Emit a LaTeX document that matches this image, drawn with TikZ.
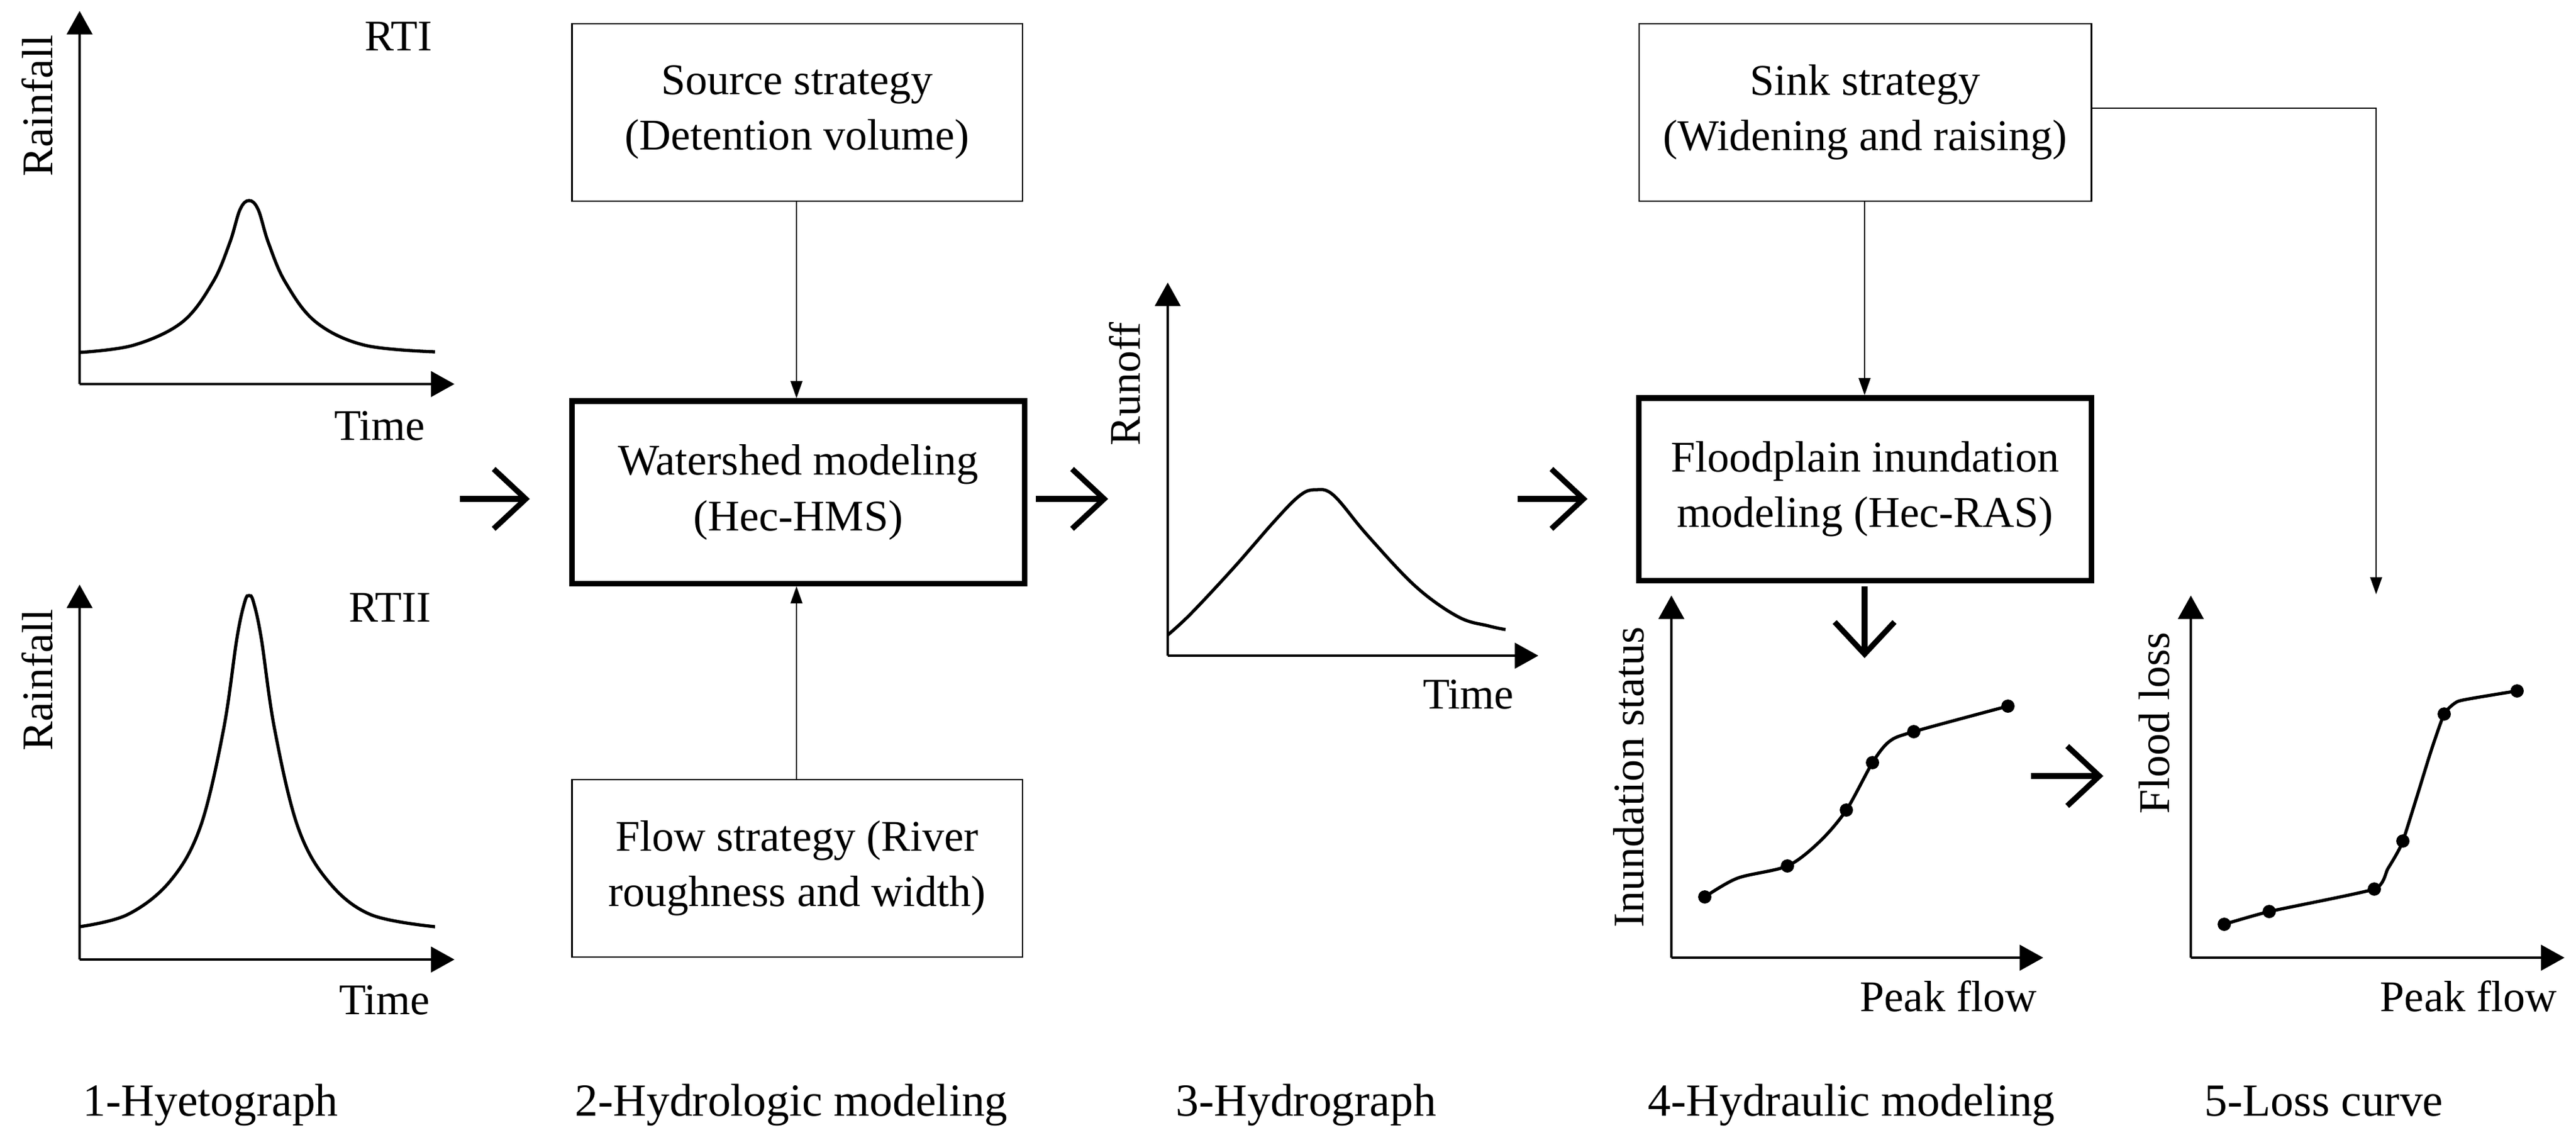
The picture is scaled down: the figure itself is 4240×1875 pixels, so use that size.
\documentclass[tikz,border=0pt]{standalone}
\usepackage{fontspec}
\setmainfont{Liberation Serif}
\usetikzlibrary{arrows.meta}
\begin{document}
\begin{tikzpicture}[x=0.01cm,y=-0.01cm,
  every node/.style={font=\fontsize{20.5}{26}\selectfont},
  box/.style={draw,line width=0.7pt,align=center,inner sep=0pt,minimum width=7.41cm,minimum height=2.92cm},
  tbox/.style={box,line width=2.6pt,minimum width=7.44cm,minimum height=3.0cm},
  axis/.style={line width=0.9pt,-{Triangle[length=11pt,width=12pt]}},
  conn/.style={line width=0.6pt,-{Triangle[length=8pt,width=5.5pt]}},
  big/.style={line width=2.6pt,-{Straight Barb[length=15pt,width=28pt,line width=2.6pt]}},
  crv/.style={line width=1.5pt},
  dot/.style={circle,fill,inner sep=2.2pt},
  captxt/.style={anchor=base west,inner sep=0pt,font=\fontsize{21.5}{26}\selectfont}]
\useasboundingbox (0,0) rectangle (4240,1875);
% plot 1
\coordinate (o1) at (131,632);
\draw[axis] (o1) -- (131,18);
\draw[axis] (o1) -- (748,632);
\node[rotate=90] (r1) at (61,174) {Rainfall};
\node (rti) at (656,60) {RTI};
\node (t1) at (625,701) {Time};
\draw[crv] plot[smooth,tension=0.6] coordinates {(131,580) (220,568) (300,530) (350,465) (378,400) (395,345) (410,330) (425,345) (442,400) (470,465) (520,530) (600,568) (716,579)};
% plot 2
\coordinate (o2) at (131,1579);
\draw[axis] (o2) -- (131,962);
\draw[axis] (o2) -- (748,1579);
\node[rotate=90] (r2) at (61,1119) {Rainfall};
\node (rtii) at (642,1000) {RTII};
\node (t2) at (633,1646) {Time};
\draw[crv] plot[smooth,tension=0.6] coordinates {(131,1525) (210,1505) (280,1450) (330,1360) (368,1200) (390,1050) (403,990) (410,980) (417,990) (430,1050) (452,1200) (490,1360) (540,1450) (610,1505) (716,1525)};
% big arrows
\draw[big] (757,821) -- (872,821);
\draw[big] (1705,821) -- (1824,821);
\draw[big] (2498,821) -- (2613,821);
\draw[big] (3069,965) -- (3069,1083);
\draw[big] (3343,1277) -- (3462,1277);
% boxes
\node[box] (src) at (1312,185) {Source strategy\\(Detention volume)};
\node[tbox] (ws) at (1314,810) {Watershed modeling\\(Hec-HMS)};
\node[box] (fl) at (1312,1429) {Flow strategy (River\\roughness and width)};
\node[box,minimum width=7.44cm] (sk) at (3070,185) {Sink strategy\\(Widening and raising)};
\node[tbox] (fp) at (3070,805) {Floodplain inundation\\modeling (Hec-RAS)};
\draw[conn] (src.south -| 1311,0) -- (ws.north -| 1311,0);
\draw[conn] (fl.north -| 1311,0) -- (ws.south -| 1311,0);
\draw[conn] (sk.south -| 3069,0) -- (fp.north -| 3069,0);
\coordinate (lc) at (3911,978);
\draw[conn] (sk.east |- 0,178) -- (3911,178) -- (lc);
% plot 3
\coordinate (o3) at (1922,1079);
\draw[axis] (o3) -- (1922,465);
\draw[axis] (o3) -- (2532,1079);
\node[rotate=90] (r3) at (1851,632) {Runoff};
\node (t3) at (2417,1143) {Time};
\draw[crv] plot[smooth,tension=0.6] coordinates {(1922,1045) (1960,1010) (2030,935) (2100,855) (2140,815) (2165,806) (2195,815) (2250,880) (2330,965) (2400,1015) (2450,1030) (2478,1036)};
% plot 4
\coordinate (o4) at (2751,1576);
\draw[axis] (o4) -- (2751,980);
\draw[axis] (o4) -- (3363,1576);
\node[rotate=90] (r4) at (2681,1279) {Inundation status};
\node (p4) at (3207,1639) {Peak flow};
\draw[crv] plot[smooth,tension=0.5] coordinates {(2806,1476) (2860,1445) (2942,1425) (2995,1385) (3039,1333) (3082,1255) (3110,1220) (3150,1204) (3305,1162)};
\foreach \p in {(2806,1476),(2942,1425),(3039,1333),(3082,1255),(3150,1204),(3305,1162)} \node[dot] at \p {};
% plot 5
\coordinate (o5) at (3606,1576);
\draw[axis] (o5) -- (3606,980);
\draw[axis] (o5) -- (4221,1576);
\node[rotate=90] (r5) at (3546,1190) {Flood loss};
\node (p5) at (4063,1639) {Peak flow};
\draw[crv] plot[smooth,tension=0.3] coordinates {(3661,1521) (3735,1500) (3908,1463) (3930,1430) (3955,1384) (4000,1240) (4023,1175) (4046,1154) (4106,1143) (4143,1137)};
\foreach \p in {(3661,1521),(3735,1500),(3908,1463),(3955,1384),(4023,1175),(4143,1137)} \node[dot] at \p {};
% captions
\node[captxt] (c1) at (136,1836) {1-Hyetograph};
\node[captxt] (c2) at (946,1836) {2-Hydrologic modeling};
\node[captxt] (c3) at (1935,1836) {3-Hydrograph};
\node[captxt] (c4) at (2712,1836) {4-Hydraulic modeling};
\node[captxt] (c5) at (3628,1836) {5-Loss curve};
\end{tikzpicture}
\end{document}
